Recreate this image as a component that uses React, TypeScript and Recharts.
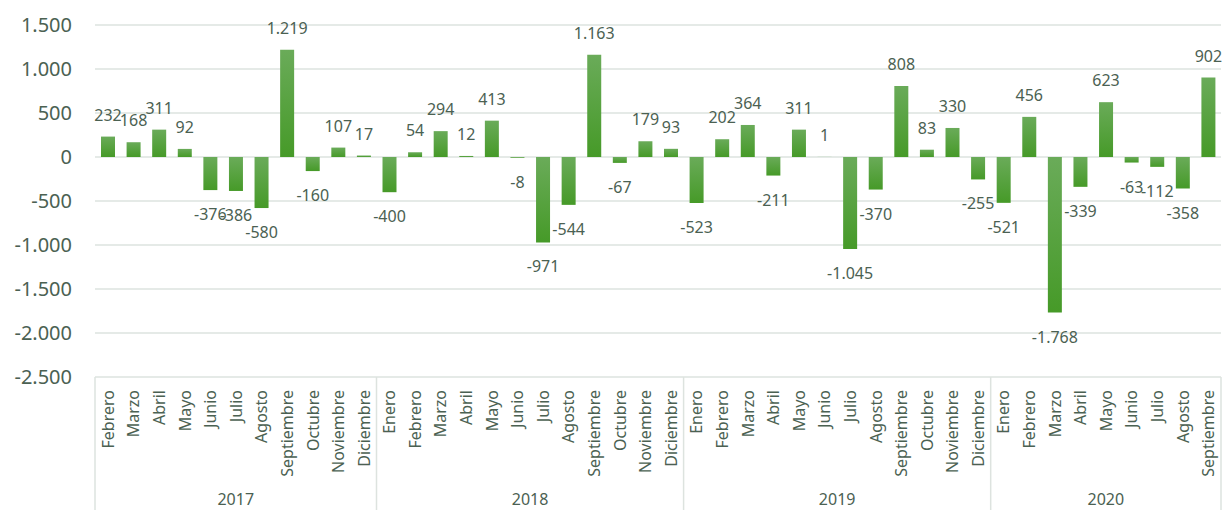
import { BarChart, Bar, XAxis, YAxis, CartesianGrid, LabelList } from 'recharts'

const MESES = ['Enero', 'Febrero', 'Marzo', 'Abril', 'Mayo', 'Junio', 'Julio', 'Agosto', 'Septiembre', 'Octubre', 'Noviembre', 'Diciembre']

// 2017 starts in Febrero, 2020 ends in Septiembre
const saldo2017 = [232, 168, 311, 92, -376, -386, -580, 1219, -160, 107, 17]
const saldo2018 = [-400, 54, 294, 12, 413, -8, -971, -544, 1163, -67, 179, 93]
const saldo2019 = [-523, 202, 364, -211, 311, 1, -1045, -370, 808, 83, 330, -255]
const saldo2020 = [-521, 456, -1768, -339, 623, -63, -112, -358, 902]

const yTicks = [-2500, -2000, -1500, -1000, -500, 0, 500, 1000, 1500]

const grupos = [
  { anio: '2017', meses: MESES.slice(1), valores: saldo2017 },
  { anio: '2018', meses: MESES, valores: saldo2018 },
  { anio: '2019', meses: MESES, valores: saldo2019 },
  { anio: '2020', meses: MESES.slice(0, 9), valores: saldo2020 },
]

const data = grupos.flatMap(g =>
  g.valores.map((v, i) => ({ mes: g.meses[i], anio: g.anio, valor: v }))
)

// layout
const W = 1224
const H = 510
const PLOT_LEFT = 95
const PLOT_RIGHT = 1221
const PLOT_TOP = 25
const PLOT_BOTTOM = 377
const BAND = (PLOT_RIGHT - PLOT_LEFT) / data.length

const TEXT = '#4b6152'
const GRID = '#dde3df'
const FONT = '"Noto Sans", sans-serif'

const fmt = (v: number) => String(v).replace(/\B(?=(\d{3})+(?!\d))/g, '.')

const MesTick = (props: any) => {
  const { x, y, payload } = props
  return (
    <text
      x={x}
      y={y}
      transform={`rotate(-90 ${x} ${y})`}
      textAnchor="end"
      dominantBaseline="central"
      fontSize={16}
      fill={TEXT}
      fontFamily={FONT}
    >
      {payload.value}
    </text>
  )
}

const AnioTick = (props: any) => {
  const { x, y, index } = props
  let start = 0
  for (let g = 0; g < grupos.length; g++) {
    const n = grupos[g].valores.length
    const last = g === grupos.length - 1
    if (index === start) {
      const cx = x + ((n - 1) / 2) * BAND
      return (
        <g>
          <line x1={x - BAND / 2} x2={x - BAND / 2} y1={PLOT_BOTTOM} y2={H} stroke={GRID} strokeWidth={1.5} />
          <text x={cx} y={y + 18} textAnchor="middle" fontSize={16} fill={TEXT} fontFamily={FONT}>
            {grupos[g].anio}
          </text>
        </g>
      )
    }
    if (last && index === start + n - 1) {
      return <line x1={x + BAND / 2} x2={x + BAND / 2} y1={PLOT_BOTTOM} y2={H} stroke={GRID} strokeWidth={1.5} />
    }
    start += n
  }
  return null
}

const Etiqueta = (props: any) => {
  const { x, y, width, height, value } = props
  const top = Math.min(y, y + height)
  const bottom = Math.max(y, y + height)
  const ty = value >= 0 ? top - 16 : bottom + 30
  return (
    <text x={x + width / 2} y={ty} textAnchor="middle" fontSize={16} fill={TEXT} fontFamily={FONT}>
      {fmt(value)}
    </text>
  )
}

export default function App() {
  return (
    <div style={{ position: 'absolute', left: 0, top: 0, width: W, height: H, background: '#fff' }}>
      <BarChart
        width={W}
        height={H}
        data={data}
        margin={{ top: PLOT_TOP, right: W - PLOT_RIGHT, left: 10, bottom: 0 }}
      >
        <defs>
          <linearGradient id="verde" x1="0" y1="0" x2="0" y2="1">
            <stop offset="0%" stopColor="#6aab59" />
            <stop offset="100%" stopColor="#469a28" />
          </linearGradient>
        </defs>
        <CartesianGrid vertical={false} stroke={GRID} strokeWidth={1.5} />
        <XAxis
          dataKey="mes"
          interval={0}
          axisLine={false}
          tickLine={false}
          tickSize={0}
          tickMargin={13}
          height={110}
          tick={<MesTick />}
        />
        <XAxis
          xAxisId="anio"
          dataKey="anio"
          interval={0}
          axisLine={false}
          tickLine={false}
          tickSize={0}
          tickMargin={0}
          height={H - PLOT_BOTTOM - 110}
          tick={<AnioTick />}
        />
        <YAxis
          width={PLOT_LEFT - 10}
          domain={[-2500, 1500]}
          ticks={yTicks}
          tickFormatter={fmt}
          axisLine={false}
          tickLine={false}
          tickSize={6}
          tickMargin={17}
          tick={{ fill: TEXT, fontSize: 20, fontFamily: FONT }}
        />
        <Bar dataKey="valor" fill="url(#verde)" barSize={14} isAnimationActive={false}>
          <LabelList dataKey="valor" content={<Etiqueta />} />
        </Bar>
      </BarChart>
    </div>
  )
}
